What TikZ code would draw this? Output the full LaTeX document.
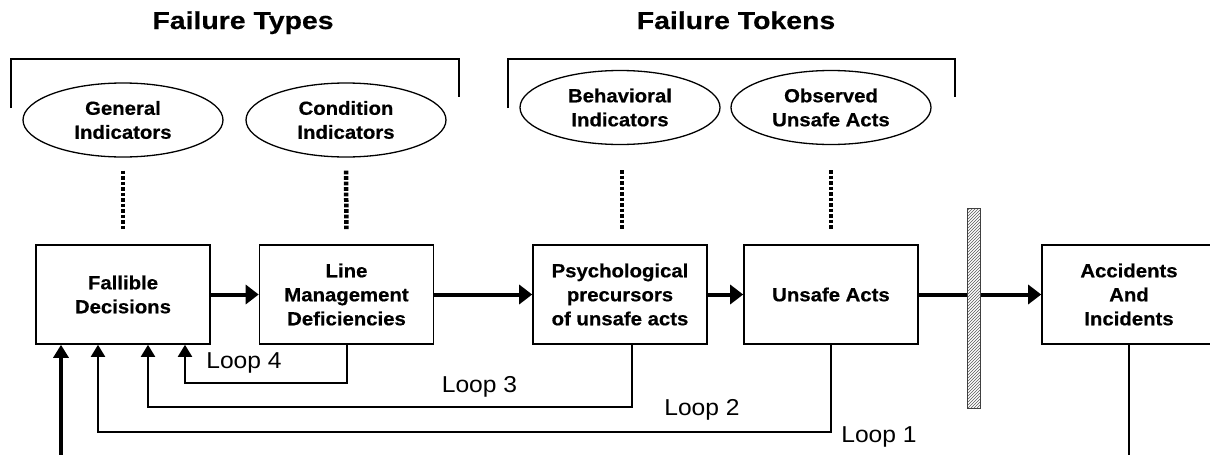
\documentclass[tikz,border=0pt]{standalone}
\usepackage{fontspec}
\setmainfont[FakeStretch=1.07,BoldFeatures={FakeBold=0.5}]{Liberation Sans}
\newfontfamily\headfont[FakeStretch=1.16,BoldFeatures={FakeBold=0.5}]{Liberation Sans}
\usetikzlibrary{arrows.meta, positioning, shapes.geometric, patterns}

\begin{document}
\begin{tikzpicture}[x=1pt,y=-1pt,font=\bfseries\fontsize{19}{24}\selectfont]
  \useasboundingbox (0,0) rectangle (1210,455);
  % Define boxes, indicator ellipses and connector looks
  \tikzstyle{stage}=[rectangle,draw,line width=1.6pt,minimum width=174pt,minimum height=99pt,align=center,inner sep=0pt]
  \tikzstyle{indicator}=[ellipse,draw,line width=1.3pt,minimum width=200pt,minimum height=74pt,align=center,inner sep=0pt]
  \tikzstyle{barrier}=[rectangle,draw=black!75,line width=1pt,minimum width=13pt,minimum height=200pt,inner sep=0pt,preaction={fill=white},pattern=north east lines,pattern color=black!65]
  \tikzstyle{flow}=[line width=4pt,-{Triangle[length=13pt,width=19pt]}]
  \tikzstyle{input}=[line width=4pt,-{Triangle[length=13pt,width=15pt]}]
  \tikzstyle{loopline}=[line width=2pt,-{Triangle[length=12pt,width=14pt]}]
  \tikzstyle{dots}=[line width=4.5pt,dash pattern=on 3.8pt off 1.7pt]
  \tikzstyle{looplabel}=[font=\fontsize{23}{23}\selectfont,anchor=base]
  \tikzstyle{heading}=[font=\headfont\bfseries\fontsize{24.5}{24.5}\selectfont,anchor=base]

  \node[heading] (types)  at (243,29) {Failure Types};
  \node[heading] (tokens) at (736,29) {Failure Tokens};

  % brackets over the two groups
  \draw[line width=1.6pt] (11,108) |- (459,59) -- (459,97);
  \draw[line width=1.6pt] (508,108) |- (955,59) -- (955,97);

  \node[indicator] (gen)  at (123,120)   {General\\Indicators};
  \node[indicator] (cond) at (346,120)   {Condition\\Indicators};
  \node[indicator] (beh)  at (620,107.5) {Behavioral\\Indicators};
  \node[indicator] (obs)  at (831,107.5) {Observed\\Unsafe Acts};

  \node[stage] (fall) at (123,294.5)   {Fallible\\Decisions};
  \node[stage] (lm)   at (346.5,294.5) {Line\\Management\\Deficiencies};
  \node[stage] (psy)  at (620,294.5)   {Psychological\\precursors\\of unsafe acts};
  \node[stage] (ua)   at (831,294.5)   {Unsafe Acts};
  \node[stage] (acc)  at (1129,294.5)  {Accidents\\And\\Incidents};

  \draw[dots, shorten <=13pt, shorten >=15pt] (gen.south) -- (fall.north);
  \draw[dots, shorten <=13pt, shorten >=15pt] (cond.south) -- (lm.north);
  \draw[dots, shorten <=25pt, shorten >=15pt] ([xshift=2pt]beh.south) -- ([xshift=2pt]psy.north);
  \draw[dots, shorten <=25pt, shorten >=15pt] (obs.south) -- (ua.north);

  \draw[flow] (fall) -- (lm);
  \draw[flow] (lm) -- (psy);
  \draw[flow] (psy) -- (ua);
  \draw[flow] (ua) -- (acc);
  \node[barrier] (bar) at (974,308) {};

  % feedback loops
  \draw[loopline] (lm.south) -- ++(0,38) -| ([xshift=62pt]fall.south);
  \draw[loopline] ([xshift=12pt]psy.south) -- ++(0,62) -| ([xshift=25pt]fall.south);
  \draw[loopline] (ua.south) -- ++(0,87) -| ([xshift=-25pt]fall.south);
  \coordinate (start) at (61,455);
  \draw[input] (start) -- ([xshift=-62pt]fall.south);
  \coordinate (end) at (1129,455);
  \draw[line width=2pt] (acc.south) -- (end);

  \node[looplabel] (l4) at (244,368) {Loop 4};
  \node[looplabel] (l3) at (479.5,392) {Loop 3};
  \node[looplabel] (l2) at (702,415) {Loop 2};
  \node[looplabel] (l1) at (879,442) {Loop 1};
\end{tikzpicture}
\end{document}
